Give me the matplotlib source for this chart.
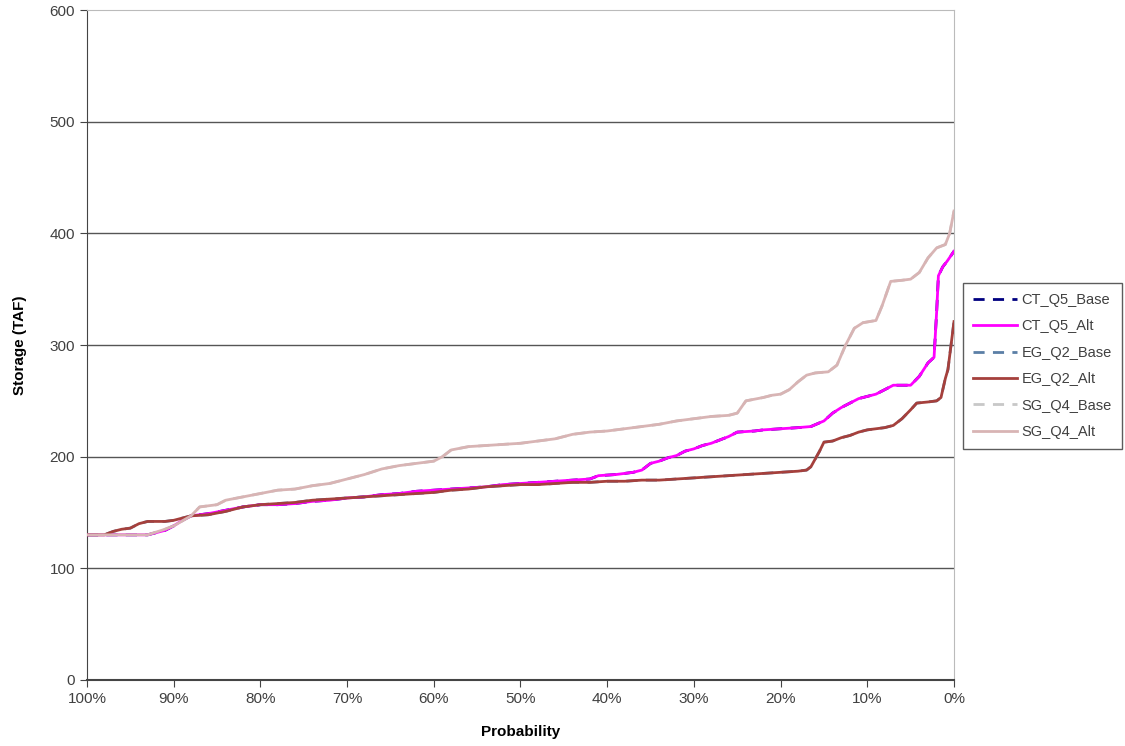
import numpy as np
import matplotlib
matplotlib.use('Agg')
import matplotlib.pyplot as plt

plt.rcParams['font.family'] = ['Liberation Sans', 'DejaVu Sans']

# exceedance probability (%) and storage (TAF)
sg_prob = [100, 93, 91, 90, 88, 87, 86, 85, 84, 82, 80, 78, 76, 74, 72, 70, 68, 66, 64, 62,
           60, 59, 58, 56, 54, 52, 50, 48, 46, 44, 42, 40, 38, 36, 34, 32, 30, 28, 26, 25,
           24, 22, 21, 20, 19, 18, 17, 16, 14.5, 13.5, 12.5, 11.5, 10.5, 9, 8.3, 7.3, 6, 5,
           4, 3, 2, 1, 0.5, 0]
sg_alt = [130, 130, 135, 138, 147, 155, 156, 157, 161, 164, 167, 170, 171, 174, 176, 180, 184, 189, 192, 194,
          196, 200, 206, 209, 210, 211, 212, 214, 216, 220, 222, 223, 225, 227, 229, 232, 234, 236, 237, 239,
          250, 253, 255, 256, 260, 267, 273, 275, 276, 282, 300, 315, 320, 322, 335, 357, 358, 359,
          365, 378, 387, 390, 400, 420]

ct_prob = [100, 93, 92, 91, 90, 89, 88, 86, 84, 82, 80, 78, 76, 74, 72, 70, 68, 66, 64, 62,
           60, 58, 56, 54, 52, 50, 48, 46, 44, 42, 41, 39, 37, 36, 35, 34, 33, 32, 31, 30,
           29, 28, 27, 26, 25, 23, 22, 20, 18, 16.5, 15, 14, 13, 12, 11, 10, 9, 8, 7, 6,
           5, 4, 3, 2.3, 2, 1.8, 1.3, 0.8, 0]
ct_alt = [130, 130, 132, 134, 138, 143, 147, 149, 152, 155, 157, 157, 158, 160, 161, 163, 164, 166, 167, 169,
          170, 171, 172, 173, 175, 176, 177, 178, 179, 180, 183, 184, 186, 188, 194, 196, 199, 201, 205, 207,
          210, 212, 215, 218, 222, 223, 224, 225, 226, 227, 232, 239, 244, 248, 252, 254, 256, 260, 264, 264,
          264, 272, 284, 289, 330, 362, 370, 375, 384]

eg_prob = [100, 98, 97, 96, 95, 94, 93, 91, 90, 89, 88, 86, 84, 82, 80, 78, 76, 74, 72, 70,
           68, 66, 64, 62, 60, 58, 56, 54, 52, 50, 48, 46, 44, 42, 40, 38, 36, 34, 32, 30,
           28, 26, 24, 22, 20, 18, 17, 16.5, 15.5, 15, 14, 13, 12, 11, 10, 9, 8, 7, 6, 5,
           4.3, 3, 2, 1.5, 1, 0.7, 0]
eg_alt = [130, 130, 133, 135, 136, 140, 142, 142, 143, 145, 147, 148, 151, 155, 157, 158, 159, 161, 162, 163,
          164, 165, 166, 167, 168, 170, 171, 173, 174, 175, 175, 176, 177, 177, 178, 178, 179, 179, 180, 181,
          182, 183, 184, 185, 186, 187, 188, 191, 205, 213, 214, 217, 219, 222, 224, 225, 226, 228, 234, 242,
          248, 249, 250, 253, 270, 278, 321]

# base runs coincide with the alternatives on this chart (hidden beneath them)
ct_base = ct_alt
eg_base = eg_alt
sg_base = sg_alt

fig = plt.figure(figsize=(11.25, 7.46), dpi=100)
ax = fig.add_axes([0.0773, 0.0885, 0.7707, 0.898])

ax.plot(ct_prob, ct_base, color='#000080', lw=2, ls=(0, (4, 3)), label='CT_Q5_Base', zorder=2)
ax.plot(ct_prob, ct_alt, color='#FF00FF', lw=2, label='CT_Q5_Alt', zorder=3)
ax.plot(eg_prob, eg_base, color='#5B7FA6', lw=2, ls=(0, (4, 3)), label='EG_Q2_Base', zorder=2)
ax.plot(eg_prob, eg_alt, color='#A5403C', lw=2, label='EG_Q2_Alt', zorder=3)
ax.plot(sg_prob, sg_base, color='#C8C8C8', lw=2, ls=(0, (4, 3)), label='SG_Q4_Base', zorder=2)
ax.plot(sg_prob, sg_alt, color='#D8B4B4', lw=2, label='SG_Q4_Alt', zorder=3)

ax.set_xlim(100, 0)
ax.set_ylim(0, 600)
ax.set_xticks(np.arange(100, -1, -10))
ax.set_xticklabels([f'{v}%' for v in range(100, -1, -10)])
ax.set_yticks(np.arange(0, 601, 100))

ax.grid(axis='y', color='#555555', lw=1)
ax.get_ygridlines()[-1].set_visible(False)
ax.set_axisbelow(True)
ax.spines['top'].set_color('#BBBBBB')
ax.spines['right'].set_color('#BBBBBB')
ax.spines['left'].set_color('#444444')
ax.spines['bottom'].set_color('#444444')
ax.spines['bottom'].set_linewidth(1.5)
ax.tick_params(axis='both', colors='#444444', labelcolor='#404040', labelsize=11, length=5, direction='out')

ax.set_xlabel('Probability', fontsize=11, fontweight='bold', labelpad=14)
ax.set_ylabel('Storage (TAF)', fontsize=11, fontweight='bold', labelpad=16)

leg = ax.legend(loc='upper left', bbox_to_anchor=(0.856, 0.621), bbox_transform=fig.transFigure,
                fontsize=10.5, frameon=True, fancybox=False, handlelength=3.0, handletextpad=0.3,
                labelspacing=0.85, borderpad=0.7, borderaxespad=0)
leg.get_frame().set_edgecolor('#333333')
leg.get_frame().set_linewidth(1)
for t in leg.get_texts():
    t.set_color('#404040')

fig.savefig('out.png', dpi=100)
